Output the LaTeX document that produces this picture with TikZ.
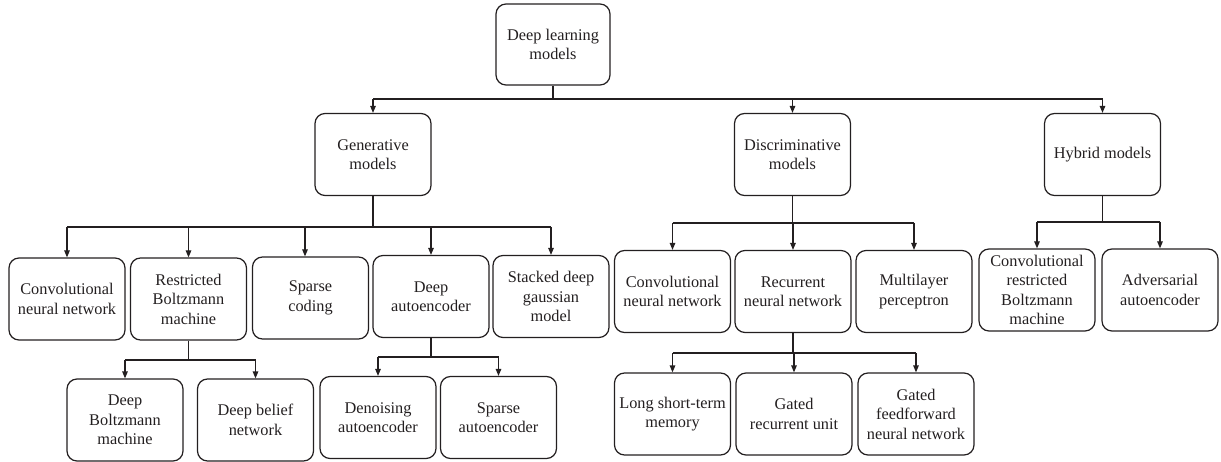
\documentclass[tikz,border=0pt]{standalone}
\usepackage{fontspec}
\setmainfont{Liberation Serif}
\usetikzlibrary{arrows.meta,calc}
\definecolor{ink}{HTML}{231F20}
\begin{document}
\begin{tikzpicture}[x=1pt,y=-1pt,
  box/.style={draw=ink,line width=1.2pt,rounded corners=10pt,align=center,
    minimum width=116pt,minimum height=82pt,inner sep=1pt,text=ink,
    font=\fontsize{16.3}{19.5}\selectfont},
  conn/.style={draw=ink,line width=1.2pt},
  arr/.style={conn,-{Triangle[length=7pt,width=5.5pt]}}]
\useasboundingbox (0,0) rectangle (1221,462);
% level 0/1
\node[box,minimum width=114pt,minimum height=81pt] (root) at (553,44.5) {Deep learning\\models};
\node[box] (gen) at (373,154.5) {Generative\\models};
\node[box] (disc) at (792.5,154.5) {Discriminative\\models};
\node[box] (hyb) at (1102.5,154.5) {Hybrid models};
% level 2
\node[box] (cnn1) at (67,299) {Convolutional\\neural network};
\node[box] (rbm) at (188.5,299) {Restricted\\Boltzmann\\machine};
\node[box] (sc) at (310.5,298) {Sparse\\coding};
\node[box] (dae) at (431,296.5) {Deep\\autoencoder};
\node[box] (sdg) at (551,296.5) {Stacked deep\\gaussian\\model};
\node[box] (cnn2) at (672.5,291.5) {Convolutional\\neural network};
\node[box] (rnn) at (793,291.5) {Recurrent\\neural network};
\node[box] (mlp) at (914,291.5) {Multilayer\\perceptron};
\node[box] (crbm) at (1037,290) {Convolutional\\restricted\\Boltzmann\\machine};
\node[box] (aae) at (1160,290) {Adversarial\\autoencoder};
% level 3
\node[box] (dbm) at (125,420) {Deep\\Boltzmann\\machine};
\node[box] (dbn) at (255.5,420) {Deep belief\\network};
\node[box] (dn) at (378,417.5) {Denoising\\autoencoder};
\node[box] (sae) at (498.5,417.5) {Sparse\\autoencoder};
\node[box] (lstm) at (672.5,414) {Long short-term\\memory};
\node[box] (gru) at (794,414) {Gated\\recurrent unit};
\node[box] (gff) at (916,414) {Gated\\feedforward\\neural network};
% junctions
\coordinate (rj) at (553,99);
\coordinate (gj) at (373,227);
\coordinate (dj) at (792.5,223);
\coordinate (hj) at (1102.5,222);
\coordinate (bj) at (188.5,360);
\coordinate (aj) at (431,357);
\coordinate (nj) at (793,353);
\coordinate (scin) at ($(sc.north)+(-5.5,0)$);
% stems and bars
\draw[conn] (root.south) -- (rj);
\draw[conn] (gen.north |- rj) -- (hyb.north |- rj);
\draw[conn] (gen.south) -- (gj);
\draw[conn] (cnn1.north |- gj) -- (sdg.north |- gj);
\draw[conn] (disc.south) -- (dj);
\draw[conn] (cnn2.north |- dj) -- (mlp.north |- dj);
\draw[conn] (hyb.south) -- (hj);
\draw[conn] (crbm.north |- hj) -- (aae.north |- hj);
\draw[conn] (rbm.south) -- (bj);
\draw[conn] (dbm.north |- bj) -- (dbn.north |- bj);
\draw[conn] (dae.south) -- (aj);
\draw[conn] (dn.north |- aj) -- (sae.north |- aj);
\draw[conn] (rnn.south) -- (nj);
\draw[conn] (lstm.north |- nj) -- (gff.north |- nj);
% arrows
\foreach \c in {gen,disc,hyb} \draw[arr] (\c.north |- rj) -- (\c.north);
\foreach \c in {cnn1,rbm,dae,sdg} \draw[arr] (\c.north |- gj) -- (\c.north);
\draw[arr] (scin |- gj) -- (scin);
\foreach \c in {cnn2,rnn,mlp} \draw[arr] (\c.north |- dj) -- (\c.north);
\foreach \c in {crbm,aae} \draw[arr] (\c.north |- hj) -- (\c.north);
\foreach \c in {dbm,dbn} \draw[arr] (\c.north |- bj) -- (\c.north);
\foreach \c in {dn,sae} \draw[arr] (\c.north |- aj) -- (\c.north);
\foreach \c in {lstm,gru,gff} \draw[arr] (\c.north |- nj) -- (\c.north);
\end{tikzpicture}
\end{document}
